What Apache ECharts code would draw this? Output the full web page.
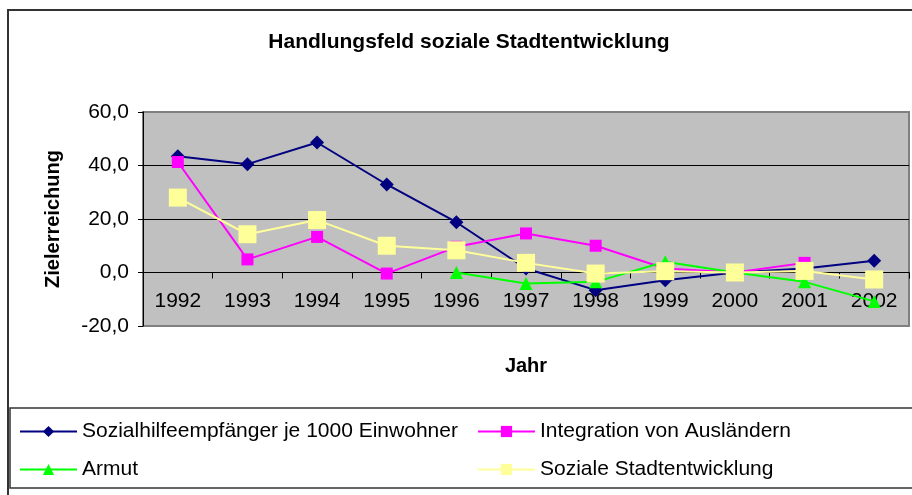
<!DOCTYPE html>
<html>
<head>
<meta charset="utf-8">
<script src="https://cdn.jsdelivr.net/npm/echarts@6/dist/echarts.min.js"></script>
<style>
  html, body { margin: 0; padding: 0; background: #fff; }
  #chart { width: 912px; height: 495px; }
</style>
</head>
<body>
<div id="chart"></div>
<script>
// Jahre
let years = ['1992', '1993', '1994', '1995', '1996', '1997', '1998', '1999', '2000', '2001', '2002'];

// Zielerreichung je Handlungsfeld
let sozialhilfe = [43.5, 40.5, 48.6, 32.9, 18.8, 1.5, -6.6, -2.9, 0.0, 1.5, 4.4];
let integration = [41.3, 4.9, 13.3, -0.4, 9.6, 14.6, 10.0, 1.5, 0.0, 3.6, null];
let armut = [null, null, null, null, 0.0, -4.1, -3.5, 4.0, 0.0, -3.5, -10.8];
let sozialeStadt = [28.0, 14.3, 19.6, 10.0, 8.3, 3.6, -0.4, 0.5, 0.0, 0.6, -2.6];

let font = 'Arial, "Liberation Sans", sans-serif';

let chart = echarts.init(document.getElementById('chart'));

function lineSeries(name, data, color, symbol, size) {
  return {
    name: name,
    type: 'line',
    data: data,
    symbol: symbol,
    symbolSize: size,
    showAllSymbol: true,
    connectNulls: false,
    animation: false,
    lineStyle: { color: color, width: 2 },
    itemStyle: { color: color }
  };
}

let legendText = { fontFamily: font, fontSize: 21, color: '#000' };

chart.setOption({
  backgroundColor: '#fff',
  textStyle: { fontFamily: font },
  title: {
    text: 'Handlungsfeld soziale Stadtentwicklung',
    left: 464,
    textAlign: 'center',
    top: 27,
    textStyle: { fontFamily: font, fontSize: 21, fontWeight: 'bold', color: '#000' }
  },
  graphic: [
    // Diagrammrahmen
    { type: 'rect', shape: { x: 8, y: 10, width: 920, height: 500 }, style: { fill: 'none', stroke: '#333', lineWidth: 2 }, z: -1 },
    // Legendenrahmen
    { type: 'rect', shape: { x: 10, y: 408, width: 920, height: 80 }, style: { fill: 'none', stroke: '#333', lineWidth: 1.5 }, z: -1 }
  ],
  legend: [
    {
      data: ['Sozialhilfeempfänger je 1000 Einwohner', 'Armut'],
      orient: 'vertical',
      left: 14,
      top: 416,
      itemWidth: 57,
      itemHeight: 14,
      itemGap: 17,
      textStyle: legendText
    },
    {
      data: ['Integration von Ausländern', 'Soziale Stadtentwicklung'],
      orient: 'vertical',
      left: 472,
      top: 416,
      itemWidth: 57,
      itemHeight: 14,
      itemGap: 17,
      textStyle: legendText
    }
  ],
  grid: {
    left: 143,
    right: 3,
    top: 112,
    bottom: 169,
    show: true,
    backgroundColor: '#c0c0c0',
    borderColor: '#808080',
    borderWidth: 2
  },
  xAxis: [
    {
      // Achse bei 0 mit Teilstrichen
      type: 'category',
      data: years,
      boundaryGap: true,
      axisLine: { onZero: true, lineStyle: { color: '#000', width: 1 } },
      axisTick: { show: true, inside: false, length: 6, lineStyle: { color: '#000' } },
      axisLabel: { show: false },
      splitLine: { show: false }
    },
    {
      // Beschriftung innerhalb der Zeichenfläche
      type: 'category',
      data: years,
      boundaryGap: true,
      position: 'bottom',
      name: 'Jahr',
      nameLocation: 'middle',
      nameGap: 30,
      nameTextStyle: { fontFamily: font, fontSize: 20, fontWeight: 'bold', color: '#000' },
      axisLine: { show: false, onZero: false },
      axisTick: { show: false },
      axisLabel: { inside: true, fontFamily: font, fontSize: 21, color: '#000', margin: 14 },
      splitLine: { show: false }
    }
  ],
  yAxis: {
    type: 'value',
    min: -20,
    max: 60,
    interval: 20,
    name: 'Zielerreichung',
    nameLocation: 'middle',
    nameGap: 80,
    nameTextStyle: { fontFamily: font, fontSize: 20, fontWeight: 'bold', color: '#000' },
    axisLine: { show: true, lineStyle: { color: '#000', width: 1 } },
    axisTick: { show: true, length: 5, lineStyle: { color: '#000' } },
    axisLabel: {
      fontFamily: font,
      fontSize: 21,
      color: '#000',
      margin: 14,
      formatter: function (v) { return v.toFixed(1).replace('.', ','); }
    },
    splitLine: { show: true, lineStyle: { color: ['#808080', '#000', '#000', '#000', '#808080'], width: 1 } }
  },
  series: [
    lineSeries('Sozialhilfeempfänger je 1000 Einwohner', sozialhilfe, '#000080', 'diamond', 14),
    lineSeries('Integration von Ausländern', integration, '#ff00ff', 'rect', 12),
    lineSeries('Armut', armut, '#00ff00', 'triangle', 13),
    lineSeries('Soziale Stadtentwicklung', sozialeStadt, '#ffff99', 'rect', 18)
  ]
});

window.onresize = function () {
  chart.resize();
};
</script>
</body>
</html>
